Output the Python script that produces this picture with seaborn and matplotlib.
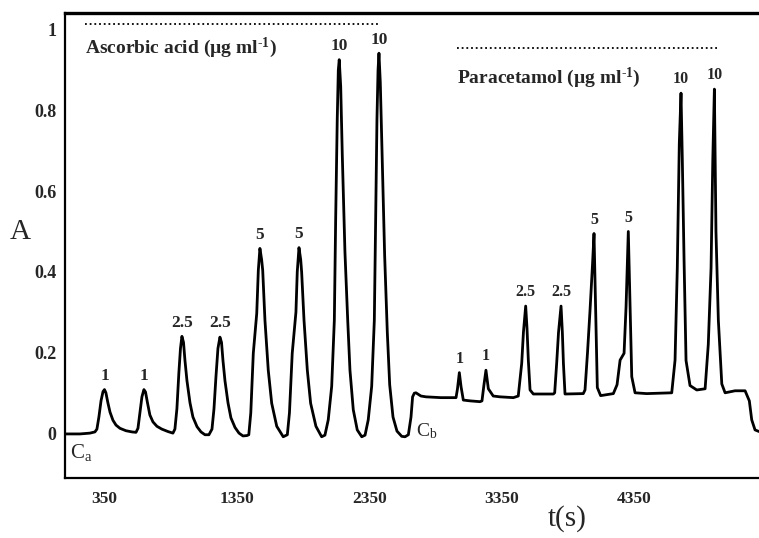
import numpy as np
import pandas as pd
import matplotlib
matplotlib.use("Agg")
import matplotlib.pyplot as plt
import seaborn as sns

# ---- data ----
time_s = [52, 165, 240, 278,
          293, 308, 324, 339, 350, 361, 376, 392, 414, 437, 467, 512, 558, 588,
          603, 618, 633, 648, 660, 675, 693, 716, 746, 783, 829, 867,
          882, 897, 912, 924, 935, 947, 958, 973, 996, 1018, 1049, 1079, 1109, 1139,
          1162, 1177, 1192, 1207, 1222, 1234, 1245, 1260, 1283, 1305, 1336, 1366, 1396, 1426,
          1440, 1455, 1474, 1500, 1512, 1524, 1537, 1545, 1562, 1587, 1613, 1651, 1700,
          1731, 1747, 1768, 1796, 1806, 1819, 1832, 1839, 1857, 1882, 1907, 1947, 1990,
          2015, 2040, 2066, 2086, 2096, 2108, 2116, 2123, 2134, 2146, 2166, 2187, 2204, 2229, 2259, 2293,
          2318, 2342, 2368, 2388, 2398, 2408, 2416, 2423, 2433, 2446, 2466, 2486, 2504, 2529, 2559, 2595, 2620, 2645,
          2665, 2677, 2690, 2702, 2740, 2778, 2891, 2984,
          3005, 3016, 3030, 3043, 3060, 3111, 3186,
          3201, 3216, 3231, 3249, 3286, 3337, 3438,
          3475, 3501, 3514, 3531, 3541, 3551, 3564, 3589, 3740,
          3750, 3765, 3779, 3798, 3808, 3816, 3828,
          3966, 3979, 3998, 4017, 4036, 4047, 4058, 4072, 4097, 4193,
          4221, 4244, 4274, 4289, 4306, 4319, 4332, 4357, 4445, 4634,
          4659, 4676, 4691, 4704, 4714, 4727, 4742, 4772, 4823, 4886,
          4910, 4931, 4944, 4956, 4968, 4986, 5012, 5037, 5112, 5188, 5220, 5238, 5263, 5293]
absorbance = [-0.002, -0.002, 0.0, 0.003,
              0.01, 0.04, 0.08, 0.103, 0.108, 0.10, 0.075, 0.052, 0.032, 0.02, 0.012, 0.006, 0.003, 0.002,
              0.012, 0.05, 0.09, 0.108, 0.102, 0.075, 0.045, 0.028, 0.017, 0.01, 0.004, 0.0,
              0.01, 0.06, 0.15, 0.21, 0.24, 0.225, 0.18, 0.13, 0.075, 0.04, 0.016, 0.003, -0.004, -0.004,
              0.01, 0.06, 0.14, 0.21, 0.238, 0.225, 0.18, 0.13, 0.075, 0.038, 0.014, 0.0, -0.007, -0.006,
              -0.004, 0.05, 0.198, 0.297, 0.404, 0.458, 0.43, 0.404, 0.28, 0.156, 0.074, 0.017, -0.009,
              -0.004, 0.05, 0.198, 0.30, 0.40, 0.46, 0.43, 0.40, 0.28, 0.156, 0.074, 0.017, -0.009,
              -0.005, 0.033, 0.116, 0.28, 0.53, 0.78, 0.90, 0.926, 0.86, 0.69, 0.45, 0.28, 0.156, 0.058, 0.008, -0.009,
              -0.005, 0.033, 0.116, 0.28, 0.53, 0.78, 0.90, 0.942, 0.87, 0.70, 0.44, 0.25, 0.12, 0.04, 0.005, -0.008, -0.009, -0.004,
              0.04, 0.09, 0.099, 0.10, 0.092, 0.09, 0.088, 0.088,
              0.088, 0.11, 0.15, 0.115, 0.082, 0.08, 0.078,
              0.08, 0.12, 0.156, 0.11, 0.092, 0.09, 0.088,
              0.092, 0.173, 0.25, 0.315, 0.26, 0.181, 0.107, 0.097, 0.097,
              0.1, 0.173, 0.25, 0.315, 0.25, 0.173, 0.097,
              0.098, 0.107, 0.2, 0.305, 0.42, 0.495, 0.33, 0.113, 0.093, 0.098,
              0.12, 0.181, 0.198, 0.313, 0.50, 0.32, 0.14, 0.1, 0.098, 0.1,
              0.181, 0.41, 0.717, 0.843, 0.677, 0.43, 0.18, 0.118, 0.107, 0.11,
              0.22, 0.41, 0.677, 0.853, 0.5, 0.28, 0.122, 0.1, 0.105, 0.105, 0.08, 0.033, 0.008, 0.004]

ascorbic_peak_t = [350, 648, 935, 1222, 1524, 1819, 2123, 2423]
ascorbic_labels = ["1", "1", "2.5", "2.5", "5", "5", "10", "10"]
paracetamol_peak_t = [3030, 3231, 3531, 3798, 4047, 4306, 4704, 4956]
paracetamol_labels = ["1", "1", "2.5", "2.5", "5", "5", "10", "10"]

x_ticks = [350, 1350, 2350, 3350, 4350]
y_ticks = [0, 0.2, 0.4, 0.6, 0.8, 1]
y_ticklabels = ["0", "0.2", "0.4", "0.6", "0.8", "1"]

df = pd.DataFrame({"t": time_s, "A": absorbance})

# ---- style ----
sns.set_style("white")
plt.rcParams["font.family"] = ["Liberation Serif", "DejaVu Serif"]
plt.rcParams["mathtext.fontset"] = "custom"
plt.rcParams["mathtext.rm"] = "Liberation Serif:bold"
plt.rcParams["mathtext.it"] = "Liberation Serif:bold"

fig = plt.figure(figsize=(7.59, 5.38), dpi=100)
ax = fig.add_axes([65 / 759, (538 - 478.3) / 538, (759 - 65) / 759, (478.3 - 13.3) / 538])

sns.lineplot(data=df, x="t", y="A", ax=ax, color="black", linewidth=2.0, sort=False)

ax.set_xlim(52, 5293)
ax.set_ylim(-0.112, 1.041)
ax.set_xticks(x_ticks)
ax.set_xticklabels([str(v) for v in x_ticks], fontweight="bold", fontsize=12.5)
ax.set_yticks(y_ticks)
ax.set_yticklabels(y_ticklabels, fontweight="bold", fontsize=13)
ax.tick_params(axis="both", direction="out", length=4, width=1.5, pad=2, color="black")
ax.tick_params(axis="x", pad=5)
ax.set_xlabel("")
ax.set_ylabel("")
for side in ["left", "bottom"]:
    ax.spines[side].set_linewidth(1.6)
    ax.spines[side].set_color("black")
ax.spines["top"].set_linewidth(2.4)
ax.spines["top"].set_color("black")
ax.spines["right"].set_visible(False)

t_arr = np.array(time_s)
a_arr = np.array(absorbance)


def peak_top(tp):
    m = (t_arr > tp - 40) & (t_arr < tp + 40)
    return a_arr[m].max()


for tp, lab in zip(ascorbic_peak_t, ascorbic_labels):
    ax.annotate(lab, (tp, peak_top(tp)), xytext=(0, 7), textcoords="offset points",
                ha="center", va="baseline", fontsize=12.5, fontweight="bold")
for tp, lab in zip(paracetamol_peak_t, paracetamol_labels):
    ax.annotate(lab, (tp, peak_top(tp)), xytext=(0, 7), textcoords="offset points",
                ha="center", va="baseline", fontsize=11.5, fontweight="bold")

# group headers with dotted lines
ax.plot([203, 2416], [1.015, 1.015], color="black", linewidth=1.3, linestyle=(0, (1, 1.6)))
ax.plot([3012, 4984], [0.955, 0.955], color="black", linewidth=1.3, linestyle=(0, (1, 1.6)))
ax.text(203, 0.955, "Ascorbic acid (\u00b5g ml$^{\\mathregular{\u2010}1}$)",
        ha="left", va="center", fontsize=14, fontweight="bold")
ax.text(3012, 0.881, "Paracetamol (\u00b5g ml$^{\\mathregular{\u2010}1}$)",
        ha="left", va="center", fontsize=14, fontweight="bold")

ax.text(89, -0.062, r"C$_{\mathregular{a}}$", ha="left", va="baseline", fontsize=15)
ax.text(2703, -0.008, r"C$_{\mathregular{b}}$", ha="left", va="baseline", fontsize=14)

fig.text(20 / 759, 1 - 232 / 538, "A", ha="center", va="center", fontsize=21)
fig.text(567 / 759, 1 - 519 / 538, "t(s)", ha="center", va="center", fontsize=21)

fig.savefig("out.png", dpi=100)
